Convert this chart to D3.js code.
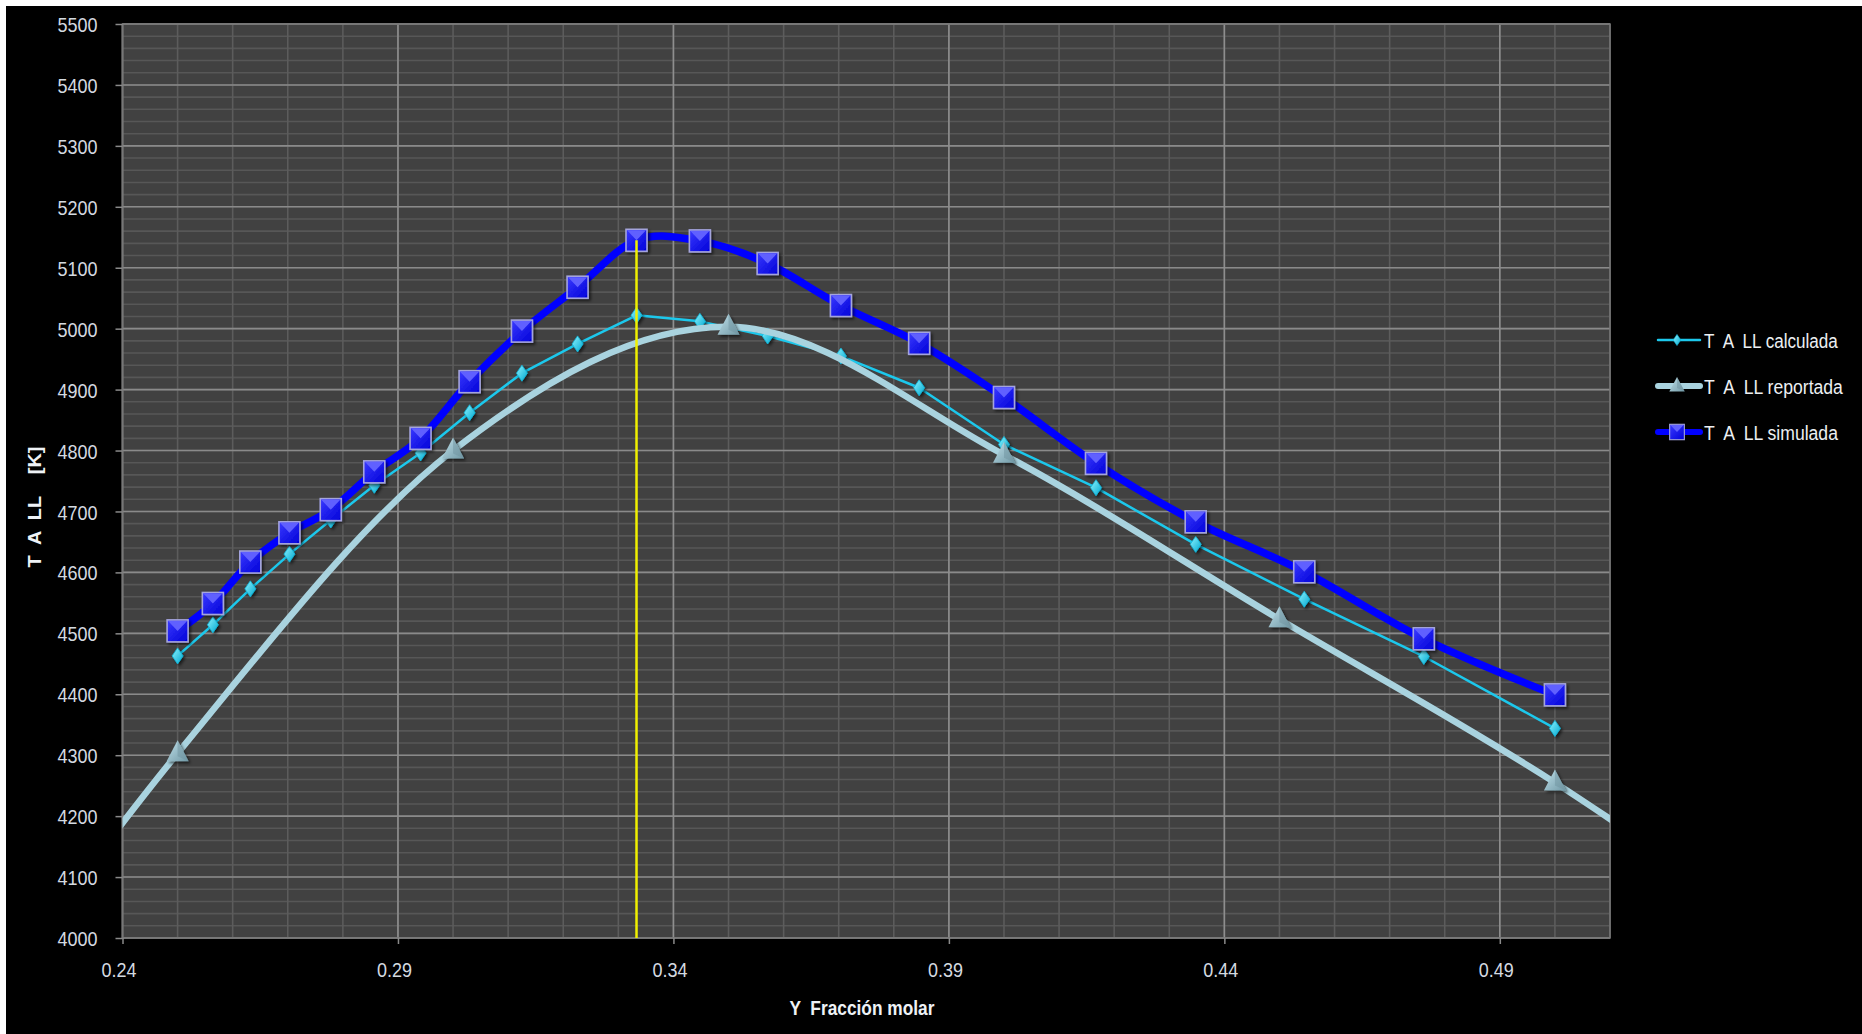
<!DOCTYPE html>
<html>
<head>
<meta charset="UTF-8">
<title>T A LL - Y Fracción molar</title>
<script src="https://cdn.jsdelivr.net/npm/d3@7"></script>
<style>
	body { margin: 0; background: #000; }
	svg { display: block; }
	text { font-family: "Liberation Sans", Arial, sans-serif; }
</style>
</head>
<body>
<svg id="chart" width="1862" height="1034"></svg>
<script>
// fraccion molar Y (same x for calculada / simulada)
var yFrac = [0.25, 0.2564, 0.2632, 0.2703, 0.2778, 0.2857, 0.2941, 0.3030, 0.3125, 0.3226,
	0.3333, 0.3448, 0.3571, 0.3704, 0.3846, 0.40, 0.4167, 0.4348, 0.4545, 0.4762, 0.50];
var tCalculada = [4463, 4514, 4573, 4630, 4686, 4743, 4796, 4862, 4927, 4975,
	5022, 5012, 4988, 4955, 4903, 4810, 4739, 4646, 4556, 4462, 4344];
var tSimulada = [4504, 4549, 4617, 4665, 4703, 4765, 4820, 4913, 4996, 5068,
	5145, 5144, 5107, 5038, 4976, 4887, 4779, 4683, 4601, 4491, 4399];
// reportada: first and last points lie outside the axis range
var yReportada = [0.20, 0.25, 0.30, 0.35, 0.40, 0.45, 0.50, 0.55];
var tReportada = [3700, 4303, 4800, 5003, 4793, 4523, 4255, 3943];
var markIndex = 10; // vertical yellow line at the simulated maximum
var xTicks = [0.24, 0.29, 0.34, 0.39, 0.44, 0.49];
var yTicks = [4000, 4100, 4200, 4300, 4400, 4500, 4600, 4700, 4800, 4900, 5000, 5100, 5200, 5300, 5400, 5500];
var seriesNames = ["T  A  LL calculada", "T  A  LL reportada", "T  A  LL simulada"];
var xTitle = "Y  Fracción molar";
var yTitle = "T  A  LL    [K]";

(function () {
var svg = d3.select("#chart");
var W = +svg.attr("width"), H = +svg.attr("height");
var pl = 122.5, pr = 1610, pt = 24, pb = 938;

var x = d3.scaleLinear().domain([0.24, 0.51]).range([pl, pr]);
var y = d3.scaleLinear().domain([4000, 5500]).range([pb, pt]);

// background with white strip top/left
svg.append("rect").attr("width", W).attr("height", H).attr("fill", "#fff");
svg.append("rect").attr("x", 6).attr("y", 6).attr("width", W - 6).attr("height", H - 6).attr("fill", "#000");

var defs = svg.append("defs");
defs.append("clipPath").attr("id", "plotClip").append("rect")
	.attr("x", pl).attr("y", pt).attr("width", pr - pl).attr("height", pb - pt);
var sh = defs.append("filter").attr("id", "shadow").attr("x", "-50%").attr("y", "-50%").attr("width", "200%").attr("height", "200%");
sh.append("feDropShadow").attr("dx", 2).attr("dy", 2).attr("stdDeviation", 1.5).attr("flood-color", "#000").attr("flood-opacity", 0.6);
function grad(id, c1, c2) {
	var g = defs.append("linearGradient").attr("id", id).attr("x1", 0).attr("y1", 0).attr("x2", 1).attr("y2", 1);
	g.append("stop").attr("offset", "0%").attr("stop-color", c1);
	g.append("stop").attr("offset", "100%").attr("stop-color", c2);
}
grad("gDia", "#8ff4ff", "#00a8d0");
grad("gTri", "#bfe0ea", "#7199a6");
grad("gSq", "#3a3aff", "#0000d8");

// plot area
svg.append("rect").attr("x", pl).attr("y", pt).attr("width", pr - pl).attr("height", pb - pt)
	.attr("fill", "#414141");

var grid = svg.append("g");
// minor grid
grid.selectAll(".hmin").data(d3.range(4000, 5501, 20)).enter().append("line")
	.attr("x1", pl).attr("x2", pr).attr("y1", function (d) { return y(d); }).attr("y2", function (d) { return y(d); })
	.attr("stroke", "#575757").attr("stroke-width", 1.6);
grid.selectAll(".vmin").data(d3.range(0, 28)).enter().append("line")
	.attr("x1", function (d) { return x(0.24 + d * 0.01); }).attr("x2", function (d) { return x(0.24 + d * 0.01); })
	.attr("y1", pt).attr("y2", pb)
	.attr("stroke", "#5c5c5c").attr("stroke-width", 1.6);
// major grid
grid.selectAll(".hmaj").data(yTicks).enter().append("line")
	.attr("x1", pl).attr("x2", pr).attr("y1", function (d) { return y(d); }).attr("y2", function (d) { return y(d); })
	.attr("stroke", "#8a8a8a").attr("stroke-width", 1.6);
grid.selectAll(".vmaj").data(xTicks).enter().append("line")
	.attr("x1", function (d) { return x(d); }).attr("x2", function (d) { return x(d); })
	.attr("y1", pt).attr("y2", pb)
	.attr("stroke", "#8e8e8e").attr("stroke-width", 1.6);
svg.append("rect").attr("x", pl).attr("y", pt).attr("width", pr - pl).attr("height", pb - pt)
	.attr("fill", "none").attr("stroke", "#777").attr("stroke-width", 1.5);

// axes
var yAxis = svg.append("g").attr("transform", "translate(" + pl + ",0)")
	.call(d3.axisLeft(y).tickValues(yTicks).tickSize(7).tickPadding(18).tickFormat(d3.format("d")));
var xAxis = svg.append("g").attr("transform", "translate(0," + pb + ")")
	.call(d3.axisBottom(x).tickValues(xTicks).tickSize(6).tickPadding(18).tickFormat(d3.format(".2f")));
[yAxis, xAxis].forEach(function (a) {
	a.select(".domain").remove();
	a.selectAll(".tick line").attr("stroke", "#8a8a8a").attr("stroke-width", 1.5);
	a.selectAll(".tick text").attr("fill", "#d4dae0").style("font-size", "21px")
		.style("font-family", "'Liberation Sans',Arial,sans-serif")
		.attr("lengthAdjust", "spacingAndGlyphs");
});
yAxis.selectAll(".tick text").attr("dy", "0.36em").attr("textLength", 40);
xAxis.selectAll(".tick text").attr("dy", "0.71em").attr("x", -4).attr("textLength", 35);

svg.append("text").attr("x", 862).attr("y", 1015).attr("text-anchor", "middle")
	.attr("fill", "#eef2f6").style("font-size", "21px").style("font-weight", "bold")
	.style("white-space", "pre").attr("textLength", 145).attr("lengthAdjust", "spacingAndGlyphs")
	.text(xTitle);
svg.append("text").attr("transform", "translate(41,507) rotate(-90)").attr("text-anchor", "middle")
	.attr("fill", "#eef2f6").style("font-size", "19px").style("font-weight", "bold")
	.style("white-space", "pre").attr("textLength", 121).attr("lengthAdjust", "spacingAndGlyphs")
	.text(yTitle);

// markers
function diamond(g) {
	g.append("path").attr("d", "M0,-8 L5.5,0 L0,8 L-5.5,0Z").attr("fill", "url(#gDia)")
		.attr("stroke", "#0fb8dc").attr("stroke-width", 0.8);
}
function triangle(g) {
	g.append("path").attr("d", "M0,-13 L11,8 L-11,8Z").attr("fill", "url(#gTri)");
	g.append("path").attr("d", "M0,-13 L0,3 L11,8Z").attr("fill", "#6f949f").attr("opacity", 0.5);
}
function square(g) {
	g.append("rect").attr("x", -10.5).attr("y", -11).attr("width", 21).attr("height", 22)
		.attr("fill", "url(#gSq)").attr("stroke", "#a4a4dc").attr("stroke-width", 1.6);
	g.append("path").attr("d", "M-9.5,-10 L9.5,-10 L0,0Z").attr("fill", "#6060ff");
}

var plot = svg.append("g").attr("clip-path", "url(#plotClip)");

var calcData = yFrac.map(function (d, i) { return [d, tCalculada[i]]; });
var repData = yReportada.map(function (d, i) { return [d, tReportada[i]]; });
var simData = yFrac.map(function (d, i) { return [d, tSimulada[i]]; });

var series = [
	{ data: calcData, color: "#1cc8ec", width: 2.5, curve: d3.curveLinear, marker: diamond },
	{ data: repData, color: "#a9d3df", width: 6.5, curve: d3.curveCardinal.tension(0), marker: triangle },
	{ data: simData, color: "#0000ff", width: 7.5, curve: d3.curveCardinal.tension(0), marker: square }
];

series.forEach(function (s) {
	var line = d3.line().x(function (d) { return x(d[0]); }).y(function (d) { return y(d[1]); }).curve(s.curve);
	plot.append("path").datum(s.data).attr("d", line).attr("fill", "none")
		.attr("stroke", s.color).attr("stroke-width", s.width).attr("stroke-linejoin", "round");
	plot.selectAll(null).data(s.data).enter().append("g")
		.attr("transform", function (d) { return "translate(" + x(d[0]) + "," + y(d[1]) + ")"; })
		.attr("filter", "url(#shadow)")
		.each(function () { s.marker(d3.select(this)); });
});

// yellow marker line at the simulated maximum
plot.append("line")
	.attr("x1", x(yFrac[markIndex])).attr("x2", x(yFrac[markIndex]))
	.attr("y1", y(tSimulada[markIndex])).attr("y2", y(4000))
	.attr("stroke", "#f0f000").attr("stroke-width", 2.5);

// legend (text squeezed horizontally to a condensed look)
var legend = svg.append("g");
var rowY = [340, 386, 432];
var textW = [134, 139, 134];
series.forEach(function (s, i) {
	var g = legend.append("g").attr("transform", "translate(0," + rowY[i] + ")");
	g.append("line").attr("x1", 1658).attr("x2", 1700).attr("y1", 0).attr("y2", 0)
		.attr("stroke", s.color).attr("stroke-width", Math.min(s.width, 6)).attr("stroke-linecap", "round");
	var m = g.append("g").attr("transform", "translate(1677,0) scale(0.7)");
	s.marker(m);
	var t = g.append("text").attr("x", 0).attr("y", 0).attr("dy", "0.36em")
		.attr("fill", "#eceff2").style("font-size", "21px").style("white-space", "pre")
		.text(seriesNames[i]);
	var k = textW[i] / t.node().getComputedTextLength();
	t.attr("transform", "translate(1704,0) scale(" + k + ",1)");
});
})();
</script>
</body>
</html>
